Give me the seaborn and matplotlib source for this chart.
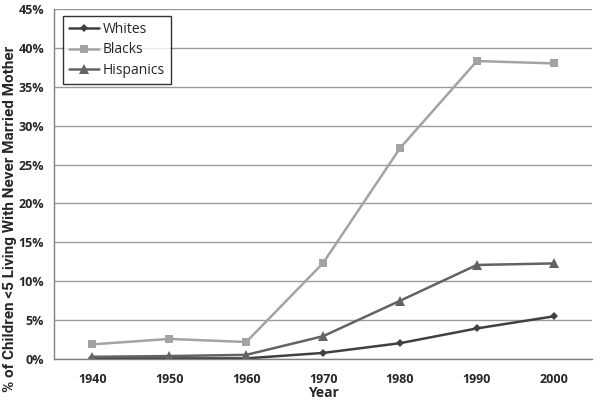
import numpy as np
import pandas as pd
import seaborn as sns
import matplotlib.pyplot as plt
from matplotlib.ticker import FuncFormatter, FixedLocator

years = ["1940", "1950", "1960", "1970", "1980", "1990", "2000"]
whites = [0.1, 0.1, 0.1, 0.8, 2.05, 3.95, 5.5]
blacks = [1.9, 2.6, 2.2, 12.35, 27.1, 38.3, 38.0]
hispanics = [0.3, 0.4, 0.55, 2.95, 7.5, 12.1, 12.3]

series = ["Whites", "Blacks", "Hispanics"]
colors = {"Whites": "#404040", "Blacks": "#a3a3a3", "Hispanics": "#636363"}
markers = {"Whites": "D", "Blacks": "s", "Hispanics": "^"}
msizes = {"Whites": 4.5, "Blacks": 6, "Hispanics": 6.5}

df = pd.DataFrame({
    "pos": list(range(len(years))) * 3,
    "value": whites + blacks + hispanics,
    "group": [s for s in series for _ in years],
})

sns.set_style("white")
plt.rcParams["font.family"] = ["Open Sans", "DejaVu Sans"]

fig, ax = plt.subplots(figsize=(6, 4.04), dpi=100)
fig.subplots_adjust(left=0.09, right=0.987, top=0.978, bottom=0.111)

ax.yaxis.grid(True, color="#9a9a9a", linewidth=1)
ax.set_axisbelow(True)

for s in series:
    sub = df[df["group"] == s]
    sns.lineplot(data=sub, x="pos", y="value", ax=ax, color=colors[s],
                 marker=markers[s], markersize=msizes[s], markeredgewidth=0,
                 linewidth=1.8, label=s)

ax.set_xlim(-0.5, len(years) - 0.5)
ax.set_ylim(0, 45)
ax.set_yticks(np.arange(0, 46, 5))
ax.yaxis.set_major_formatter(FuncFormatter(lambda v, p: f"{int(v)}%"))
ax.set_xticks(range(len(years)))
ax.set_xticklabels(years)
ax.xaxis.set_minor_locator(FixedLocator(np.arange(-0.5, len(years), 1)))
ax.tick_params(axis="x", which="major", length=0, pad=10)
ax.tick_params(axis="x", which="minor", length=5, color="#808080", direction="out")
ax.tick_params(axis="y", length=5, color="#9a9a9a", direction="out", pad=2)
for lab in ax.get_xticklabels() + ax.get_yticklabels():
    lab.set_fontweight("bold")
    lab.set_fontsize(9)

for side in ["top", "right"]:
    ax.spines[side].set_visible(False)
for side in ["left", "bottom"]:
    ax.spines[side].set_color("#808080")
    ax.spines[side].set_linewidth(1)

ax.set_xlabel("Year", fontweight="bold", fontsize=10, labelpad=0)
ax.set_ylabel("% of Children <5 Living With Never Married Mother",
              fontweight="bold", fontsize=11, family=["Roboto", "DejaVu Sans"])
ax.yaxis.set_label_coords(-0.068, 0.40)

leg = ax.legend(loc="upper left", bbox_to_anchor=(0.017, 0.98), frameon=True,
                fancybox=False, edgecolor="black", fontsize=10,
                handlelength=2.1, borderpad=0.45, labelspacing=0.38,
                handletextpad=0.3, borderaxespad=0)
leg.get_frame().set_linewidth(1)

fig.savefig("out.png", dpi=100)
